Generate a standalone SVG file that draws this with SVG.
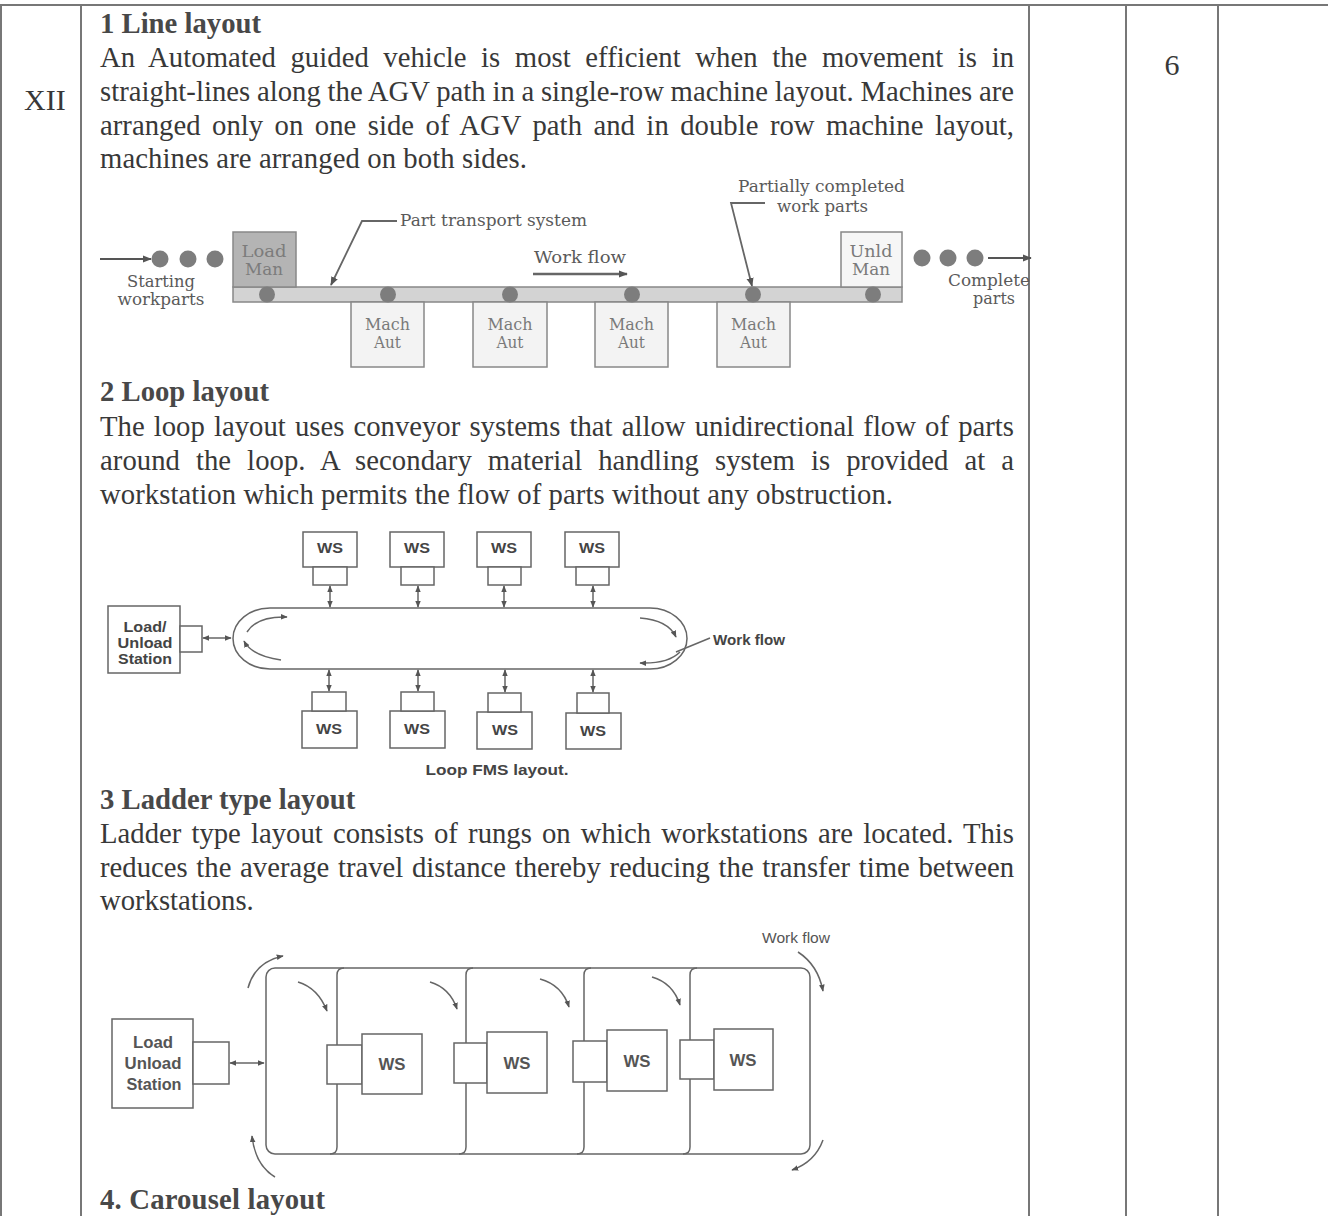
<svg xmlns="http://www.w3.org/2000/svg" width="1328" height="1216" viewBox="0 0 1328 1216">
<defs>
<style>
.body{font-family:"Liberation Serif","Times New Roman",serif;font-size:28.7px;fill:#383838}
.hd{font-family:"Liberation Serif","Times New Roman",serif;font-size:28.7px;font-weight:bold;fill:#484848}
.tbl{stroke:#777;stroke-width:2;fill:none}
.lbl{font-family:"DejaVu Serif","Liberation Serif",serif;font-size:17px;fill:#5a5a5a}
.mtx{font-family:"DejaVu Serif","Liberation Serif",serif;font-size:17px;fill:#7a7a7a}
.box{fill:#fff;stroke:#666;stroke-width:1.5}
.ln{fill:none;stroke:#666;stroke-width:1.5}
.sans{font-family:"Liberation Sans",Arial,sans-serif;font-weight:bold;fill:#444}
.dot{fill:#7d7d7d}
</style>
<marker id="ah" viewBox="0 0 10 10" refX="9" refY="5" markerWidth="9" markerHeight="9" orient="auto-start-reverse" markerUnits="userSpaceOnUse"><path d="M0,1 L10,5 L0,9 z" fill="#555"/></marker>
<marker id="ahs" viewBox="0 0 10 10" refX="9" refY="5" markerWidth="7" markerHeight="7" orient="auto-start-reverse" markerUnits="userSpaceOnUse"><path d="M0,1 L10,5 L0,9 z" fill="#555"/></marker>
</defs>
<rect width="1328" height="1216" fill="#fff"/>

<g id="table">
<line class="tbl" x1="0" y1="5" x2="1328" y2="5"/>
<line class="tbl" x1="1" y1="5" x2="1" y2="1216"/>
<line class="tbl" x1="81" y1="5" x2="81" y2="1216"/>
<line class="tbl" x1="1029" y1="5" x2="1029" y2="1216"/>
<line class="tbl" x1="1126" y1="5" x2="1126" y2="1216"/>
<line class="tbl" x1="1218" y1="5" x2="1218" y2="1216"/>
<text class="body" x="24" y="110" style="font-size:30px">XII</text>
<text class="body" x="1172" y="75" text-anchor="middle" style="font-size:30px">6</text>
</g>

<g id="text">
<text class="hd" x="100" y="33">1 Line layout</text>
<text class="body" x="100" y="67" word-spacing="7.36" textLength="914" lengthAdjust="spacing">An Automated guided vehicle is most efficient when the movement is in</text>
<text class="body" x="100" y="101" word-spacing="-0.5" textLength="914" lengthAdjust="spacing">straight-lines along the AGV path in a single-row machine layout. Machines are</text>
<text class="body" x="100" y="135" word-spacing="4.2" textLength="914" lengthAdjust="spacing">arranged only on one side of AGV path and in double row machine layout,</text>
<text class="body" x="100" y="168" textLength="427" lengthAdjust="spacing">machines are arranged on both sides.</text>

<text class="hd" x="100" y="401">2 Loop layout</text>
<text class="body" x="100" y="436" word-spacing="2" textLength="914" lengthAdjust="spacing">The loop layout uses conveyor systems that allow unidirectional flow of parts</text>
<text class="body" x="100" y="470" word-spacing="8.75" textLength="914" lengthAdjust="spacing">around the loop. A secondary material handling system is provided at a</text>
<text class="body" x="100" y="504" textLength="793" lengthAdjust="spacing">workstation which permits the flow of parts without any obstruction.</text>

<text class="hd" x="100" y="809">3 Ladder type layout</text>
<text class="body" x="100" y="843" word-spacing="2.95" textLength="914" lengthAdjust="spacing">Ladder type layout consists of rungs on which workstations are located. This</text>
<text class="body" x="100" y="877" word-spacing="1.5" textLength="914" lengthAdjust="spacing">reduces the average travel distance thereby reducing the transfer time between</text>
<text class="body" x="100" y="910">workstations.</text>

<text class="hd" x="100" y="1209" textLength="225" lengthAdjust="spacing">4. Carousel layout</text>
</g>

<!-- Line layout -->
<g id="line-layout">
<g id="conveyor"><rect x="233" y="287" width="669" height="15" fill="#d3d3d3" stroke="#888" stroke-width="1.5"/></g>
<g id="load-man"><rect x="233" y="232" width="63" height="55" fill="#b4b4b4" stroke="#888" stroke-width="1.5"/>
<text class="lbl" x="264" y="257" text-anchor="middle" style="fill:#7c7c7c" textLength="45" lengthAdjust="spacingAndGlyphs">Load</text>
<text class="lbl" x="264" y="275" text-anchor="middle" style="fill:#7c7c7c" textLength="38" lengthAdjust="spacingAndGlyphs">Man</text></g>
<g id="unld-man"><rect x="841" y="232" width="61" height="55" fill="#f6f6f6" stroke="#888" stroke-width="1.5"/>
<text class="mtx" x="871" y="257" text-anchor="middle" textLength="43" lengthAdjust="spacingAndGlyphs">Unld</text>
<text class="mtx" x="871" y="275" text-anchor="middle" textLength="38" lengthAdjust="spacingAndGlyphs">Man</text></g>
<g id="mach1"><rect x="351" y="302" width="73" height="65" fill="#f3f3f3" stroke="#888" stroke-width="1.5"/>
<text class="mtx" x="387.5" y="330" text-anchor="middle" textLength="45" lengthAdjust="spacingAndGlyphs">Mach</text>
<text class="mtx" x="387.5" y="348" text-anchor="middle" textLength="27" lengthAdjust="spacingAndGlyphs">Aut</text></g>
<g id="mach2"><rect x="473" y="302" width="74" height="65" fill="#f3f3f3" stroke="#888" stroke-width="1.5"/>
<text class="mtx" x="510" y="330" text-anchor="middle" textLength="45" lengthAdjust="spacingAndGlyphs">Mach</text>
<text class="mtx" x="510" y="348" text-anchor="middle" textLength="27" lengthAdjust="spacingAndGlyphs">Aut</text></g>
<g id="mach3"><rect x="595" y="302" width="73" height="65" fill="#f3f3f3" stroke="#888" stroke-width="1.5"/>
<text class="mtx" x="631.5" y="330" text-anchor="middle" textLength="45" lengthAdjust="spacingAndGlyphs">Mach</text>
<text class="mtx" x="631.5" y="348" text-anchor="middle" textLength="27" lengthAdjust="spacingAndGlyphs">Aut</text></g>
<g id="mach4"><rect x="717" y="302" width="73" height="65" fill="#f3f3f3" stroke="#888" stroke-width="1.5"/>
<text class="mtx" x="753.5" y="330" text-anchor="middle" textLength="45" lengthAdjust="spacingAndGlyphs">Mach</text>
<text class="mtx" x="753.5" y="348" text-anchor="middle" textLength="27" lengthAdjust="spacingAndGlyphs">Aut</text></g>
<g id="parts">
<circle class="dot" cx="160" cy="259" r="8.5"/><circle class="dot" cx="188" cy="259" r="8.5"/><circle class="dot" cx="215" cy="259" r="8.5"/>
<circle class="dot" cx="922" cy="258" r="8.5"/><circle class="dot" cx="948" cy="258" r="8.5"/><circle class="dot" cx="975" cy="258" r="8.5"/>
<circle class="dot" cx="267" cy="294.5" r="8"/><circle class="dot" cx="388" cy="294.5" r="8"/><circle class="dot" cx="510" cy="294.5" r="8"/>
<circle class="dot" cx="632" cy="294.5" r="8"/><circle class="dot" cx="753" cy="294.5" r="8"/><circle class="dot" cx="873" cy="294.5" r="8"/>
</g>
<g id="line-labels">
<text class="lbl" x="161" y="287" text-anchor="middle" textLength="68" lengthAdjust="spacingAndGlyphs">Starting</text>
<text class="lbl" x="161" y="305" text-anchor="middle" textLength="87" lengthAdjust="spacingAndGlyphs">workparts</text>
<text class="lbl" x="400" y="226" textLength="187" lengthAdjust="spacingAndGlyphs">Part transport system</text>
<text class="lbl" x="534" y="263" textLength="92" lengthAdjust="spacingAndGlyphs">Work flow</text>
<text class="lbl" x="738" y="192" textLength="167" lengthAdjust="spacingAndGlyphs">Partially completed</text>
<text class="lbl" x="777" y="212" textLength="91" lengthAdjust="spacingAndGlyphs">work parts</text>
<text class="lbl" x="948" y="286" textLength="82" lengthAdjust="spacingAndGlyphs">Complete</text>
<text class="lbl" x="973" y="304" textLength="42" lengthAdjust="spacingAndGlyphs">parts</text>
</g>
</g>

<!-- Loop layout -->
<g id="loop-layout">
<g id="loop"><path class="ln" d="M270 608 L650 608 A37 30.5 0 0 1 650 669 L270 669 A37 30.5 0 0 1 270 608 Z"/></g>
<g id="loop-lus"><rect class="box" x="108" y="606" width="72" height="67"/>
<rect class="box" x="180" y="626" width="22" height="26"/>
<text class="sans" x="145" y="632" text-anchor="middle" style="font-size:15px" textLength="43" lengthAdjust="spacingAndGlyphs">Load/</text>
<text class="sans" x="145" y="648" text-anchor="middle" style="font-size:15px" textLength="55" lengthAdjust="spacingAndGlyphs">Unload</text>
<text class="sans" x="145" y="664" text-anchor="middle" style="font-size:15px" textLength="54" lengthAdjust="spacingAndGlyphs">Station</text></g>
<g id="ws-t1"><rect class="box" x="303" y="532" width="54" height="35"/><rect class="box" x="313" y="567" width="34" height="18"/><text class="sans" x="330" y="553" text-anchor="middle" style="font-size:14px" textLength="26" lengthAdjust="spacingAndGlyphs">WS</text></g>
<g id="ws-t2"><rect class="box" x="390" y="532" width="54" height="35"/><rect class="box" x="401" y="567" width="33" height="18"/><text class="sans" x="417" y="553" text-anchor="middle" style="font-size:14px" textLength="26" lengthAdjust="spacingAndGlyphs">WS</text></g>
<g id="ws-t3"><rect class="box" x="477" y="532" width="54" height="35"/><rect class="box" x="488" y="567" width="33" height="18"/><text class="sans" x="504" y="553" text-anchor="middle" style="font-size:14px" textLength="26" lengthAdjust="spacingAndGlyphs">WS</text></g>
<g id="ws-t4"><rect class="box" x="565" y="532" width="54" height="35"/><rect class="box" x="576" y="567" width="33" height="18"/><text class="sans" x="592" y="553" text-anchor="middle" style="font-size:14px" textLength="26" lengthAdjust="spacingAndGlyphs">WS</text></g>
<g id="ws-b1"><rect class="box" x="302" y="711" width="55" height="37"/><rect class="box" x="312" y="692" width="34" height="19"/><text class="sans" x="329" y="734" text-anchor="middle" style="font-size:14px" textLength="26" lengthAdjust="spacingAndGlyphs">WS</text></g>
<g id="ws-b2"><rect class="box" x="390" y="711" width="55" height="37"/><rect class="box" x="401" y="692" width="33" height="19"/><text class="sans" x="417" y="734" text-anchor="middle" style="font-size:14px" textLength="26" lengthAdjust="spacingAndGlyphs">WS</text></g>
<g id="ws-b3"><rect class="box" x="477" y="712" width="55" height="37"/><rect class="box" x="488" y="693" width="33" height="19"/><text class="sans" x="505" y="735" text-anchor="middle" style="font-size:14px" textLength="26" lengthAdjust="spacingAndGlyphs">WS</text></g>
<g id="ws-b4"><rect class="box" x="566" y="713" width="55" height="36"/><rect class="box" x="577" y="693" width="32" height="20"/><text class="sans" x="593" y="736" text-anchor="middle" style="font-size:14px" textLength="26" lengthAdjust="spacingAndGlyphs">WS</text></g>
<text class="sans" x="713" y="645" style="font-size:15px" textLength="72" lengthAdjust="spacingAndGlyphs">Work flow</text>
<text class="sans" x="497" y="775" text-anchor="middle" style="font-size:15px" textLength="143" lengthAdjust="spacingAndGlyphs">Loop FMS layout.</text>
</g>

<!-- Ladder layout -->
<g id="ladder-layout">
<g id="ladder-frame"><rect class="ln" x="266" y="968" width="544" height="186" rx="9"/>
<path class="ln" d="M337 975 Q337 968 344 968 M337 975 L337 1147 Q337 1154 330 1154"/>
<path class="ln" d="M466 975 Q466 968 473 968 M466 975 L466 1147 Q466 1154 459 1154"/>
<path class="ln" d="M584 975 Q584 968 591 968 M584 975 L584 1147 Q584 1154 577 1154"/>
<path class="ln" d="M690 975 Q690 968 697 968 M690 975 L690 1147 Q690 1154 683 1154"/></g>
<g id="lad-lus"><rect class="box" x="112" y="1019" width="81" height="89"/><rect class="box" x="193" y="1042" width="36" height="42"/>
<text class="sans" x="153" y="1048" text-anchor="middle" style="font-size:17px;fill:#555" textLength="40" lengthAdjust="spacingAndGlyphs">Load</text>
<text class="sans" x="153" y="1069" text-anchor="middle" style="font-size:17px;fill:#555" textLength="57" lengthAdjust="spacingAndGlyphs">Unload</text>
<text class="sans" x="154" y="1090" text-anchor="middle" style="font-size:17px;fill:#555" textLength="55" lengthAdjust="spacingAndGlyphs">Station</text></g>
<g id="lad-ws1"><rect class="box" x="327" y="1045" width="35" height="39"/><rect class="box" x="362" y="1034" width="60" height="60"/><text class="sans" x="392" y="1070" text-anchor="middle" style="font-size:17px;fill:#555" textLength="27" lengthAdjust="spacingAndGlyphs">WS</text></g>
<g id="lad-ws2"><rect class="box" x="454" y="1043" width="33" height="40"/><rect class="box" x="487" y="1032" width="60" height="61"/><text class="sans" x="517" y="1069" text-anchor="middle" style="font-size:17px;fill:#555" textLength="27" lengthAdjust="spacingAndGlyphs">WS</text></g>
<g id="lad-ws3"><rect class="box" x="573" y="1041" width="34" height="41"/><rect class="box" x="607" y="1030" width="60" height="61"/><text class="sans" x="637" y="1067" text-anchor="middle" style="font-size:17px;fill:#555" textLength="27" lengthAdjust="spacingAndGlyphs">WS</text></g>
<g id="lad-ws4"><rect class="box" x="680" y="1040" width="34" height="39"/><rect class="box" x="714" y="1029" width="59" height="61"/><text class="sans" x="743" y="1066" text-anchor="middle" style="font-size:17px;fill:#555" textLength="27" lengthAdjust="spacingAndGlyphs">WS</text></g>
<text x="762" y="943" style="font-family:'Liberation Sans',Arial,sans-serif;font-size:15px;fill:#555" textLength="68" lengthAdjust="spacingAndGlyphs">Work flow</text>
</g>

<g id="connectors">
<line x1="100" y1="259" x2="151" y2="259" stroke="#555" stroke-width="2" marker-end="url(#ah)"/>
<line x1="988" y1="258" x2="1031" y2="258" stroke="#555" stroke-width="2" marker-end="url(#ah)"/>
<polyline points="397,221 362,221 331,285" fill="none" stroke="#666" stroke-width="1.8" marker-end="url(#ah)"/>
<polyline points="765,203 731,203 752,286" fill="none" stroke="#666" stroke-width="1.8" marker-end="url(#ah)"/>
<line x1="533" y1="274" x2="627" y2="274" stroke="#666" stroke-width="2.5" marker-end="url(#ah)"/>
<line class="ln" x1="203" y1="638" x2="231" y2="638" marker-start="url(#ahs)" marker-end="url(#ahs)"/>
<line class="ln" x1="330" y1="586" x2="330" y2="607" marker-start="url(#ahs)" marker-end="url(#ahs)"/>
<line class="ln" x1="418" y1="586" x2="418" y2="607" marker-start="url(#ahs)" marker-end="url(#ahs)"/>
<line class="ln" x1="504" y1="586" x2="504" y2="607" marker-start="url(#ahs)" marker-end="url(#ahs)"/>
<line class="ln" x1="593" y1="586" x2="593" y2="607" marker-start="url(#ahs)" marker-end="url(#ahs)"/>
<line class="ln" x1="329" y1="670" x2="329" y2="691" marker-start="url(#ahs)" marker-end="url(#ahs)"/>
<line class="ln" x1="418" y1="670" x2="418" y2="691" marker-start="url(#ahs)" marker-end="url(#ahs)"/>
<line class="ln" x1="505" y1="670" x2="505" y2="692" marker-start="url(#ahs)" marker-end="url(#ahs)"/>
<line class="ln" x1="593" y1="670" x2="593" y2="692" marker-start="url(#ahs)" marker-end="url(#ahs)"/>
<path class="ln" d="M247 632 Q257 616 287 617" marker-end="url(#ahs)"/>
<path class="ln" d="M281 660 Q252 656 244 641" marker-end="url(#ahs)"/>
<path class="ln" d="M640 618 Q668 620 676 637" marker-end="url(#ahs)"/>
<path class="ln" d="M680 652 Q668 664 640 663" marker-end="url(#ahs)"/>
<line class="ln" x1="710" y1="638" x2="676" y2="652"/>
<line class="ln" x1="230" y1="1063" x2="264" y2="1063" marker-start="url(#ahs)" marker-end="url(#ahs)"/>
<path class="ln" d="M298 982 Q318 988 327 1011" marker-end="url(#ahs)"/>
<path class="ln" d="M430 982 Q450 988 457 1009" marker-end="url(#ahs)"/>
<path class="ln" d="M540 979 Q562 985 569 1007" marker-end="url(#ahs)"/>
<path class="ln" d="M652 977 Q673 983 680 1005" marker-end="url(#ahs)"/>
<path class="ln" d="M248 988 Q255 962 283 956" marker-end="url(#ahs)"/>
<path class="ln" d="M275 1177 Q255 1165 252 1136" marker-end="url(#ahs)"/>
<path class="ln" d="M798 952 Q818 965 823 991" marker-end="url(#ahs)"/>
<path class="ln" d="M823 1140 Q815 1162 792 1170" marker-end="url(#ahs)"/>
</g>
</svg>
